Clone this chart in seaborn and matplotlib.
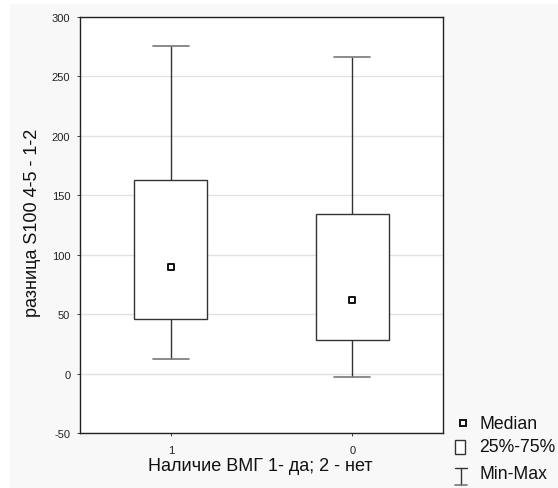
import matplotlib
matplotlib.use("Agg")
import matplotlib.pyplot as plt
from matplotlib.patches import Rectangle
from matplotlib.lines import Line2D
import seaborn as sns
import pandas as pd

# Summary statistics per group
groups = ["1", "0"]
mins = [12, -3]
q1s = [46, 28]
medians = [90, 62]
q3s = [163, 134]
maxs = [276, 266]

y_ticks = [-50, 0, 50, 100, 150, 200, 250, 300]
x_label = "Наличие ВМГ 1- да; 2 - нет"
y_label = "разница S100 4-5 - 1-2"
legend_labels = ["Median", "25%-75%", "Min-Max"]

W, H = 558, 489


def px(x, y):
    """Pixel position (from top-left) to figure fraction."""
    return x / W, 1 - y / H


# Five-number summaries as rows; with whis=(0, 100) the box spans q1..q3
# and the whiskers span min..max
rows = []
for g, a, b, c, d, e in zip(groups, mins, q1s, medians, q3s, maxs):
    for v in (a, b, c, d, e):
        rows.append({"group": g, "value": v})
df = pd.DataFrame(rows)
med_df = pd.DataFrame({"group": groups, "value": medians})

sns.set_theme(style="white")
plt.rcParams["font.family"] = ["Liberation Sans", "DejaVu Sans"]
plt.rcParams["axes.unicode_minus"] = False

fig = plt.figure(figsize=(W / 100, H / 100), dpi=100, facecolor="white")
fig.patches.append(Rectangle((10 / W, 0), 1, 1 - 5 / H, transform=fig.transFigure,
                             facecolor="#f8f8f8", edgecolor="none", zorder=-10))
ax = fig.add_axes([80 / W, 55 / H, 363 / W, 416 / H])
ax.set_facecolor("white")

line_col = "#333333"
cap_col = "#777777"
sns.boxplot(data=df, x="group", y="value", order=groups, whis=(0, 100), width=0.4,
            color="white", linecolor=line_col, linewidth=1.0, showfliers=False,
            medianprops={"visible": False},
            capprops={"color": cap_col, "linewidth": 1.2},
            ax=ax)
sns.stripplot(data=med_df, x="group", y="value", order=groups, jitter=False,
              marker="s", s=4, color="white", edgecolor="#111111", linewidth=1.4,
              ax=ax, zorder=5)

ax.set_xlim(-0.5, 1.5)
ax.set_ylim(-50, 300)
ax.set_yticks(y_ticks)
ax.yaxis.grid(True, color="#e2e2e2", linewidth=1.0)
ax.set_axisbelow(True)
for side in ["left", "bottom", "top", "right"]:
    ax.spines[side].set_visible(True)
    ax.spines[side].set_color("#222222")
    ax.spines[side].set_linewidth(1.0)
ax.tick_params(axis="both", labelsize=8, colors="#222222", length=2, width=0.6,
               direction="out", left=True, bottom=True)
ax.tick_params(axis="y", pad=5)
ax.tick_params(axis="x", pad=7)
ax.set_xlabel("")
ax.set_ylabel("")

fig.text(*px(260, 467), x_label, fontsize=13, color="#111111", ha="center", va="center")
fig.text(*px(33, 223), y_label, fontsize=13, color="#111111", ha="center", va="center",
         rotation=90)

# Legend drawn in figure pixel space
fig.add_artist(Line2D([px(462.5, 0)[0]], [px(0, 423.5)[1]], transform=fig.transFigure,
                      linestyle="none", marker="s", markersize=4.5, markerfacecolor="white",
                      markeredgecolor="#111111", markeredgewidth=1.4))
bx0, by0 = px(455, 455)
fig.add_artist(Rectangle((bx0, by0), 10 / W, 14 / H, transform=fig.transFigure,
                         facecolor="white", edgecolor=line_col, linewidth=1.0))
xa, xb, xc = px(455, 0)[0], px(461, 0)[0], px(467, 0)[0]
yt, yb = px(0, 469)[1], px(0, 486)[1]
fig.add_artist(Line2D([xb, xb], [yb, yt], transform=fig.transFigure, color=line_col, lw=1.0))
fig.add_artist(Line2D([xa, xc], [yt, yt], transform=fig.transFigure, color=line_col, lw=1.0))
fig.add_artist(Line2D([xa, xc], [yb, yb], transform=fig.transFigure, color=cap_col, lw=1.2))
for label, ty in zip(legend_labels, [425, 448, 475]):
    fig.text(*px(479, ty), label, fontsize=12.7, color="#111111", ha="left", va="center")

fig.savefig("out.png", dpi=100, facecolor=fig.get_facecolor())
